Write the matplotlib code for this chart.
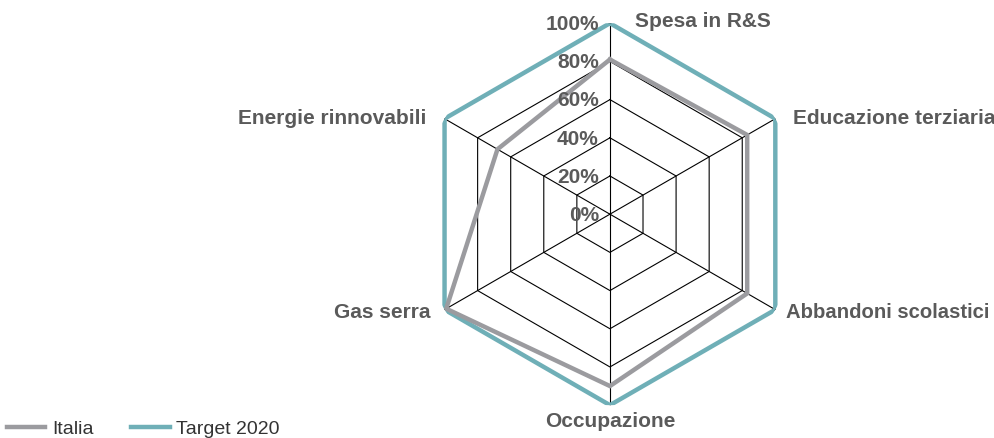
import numpy as np
import matplotlib.pyplot as plt
from matplotlib.lines import Line2D

plt.rcParams['font.family'] = ['Liberation Sans', 'DejaVu Sans']

categories = ["Spesa in R&S", "Educazione terziaria", "Abbandoni scolastici",
              "Occupazione", "Gas serra", "Energie rinnovabili"]
italia = [0.81, 0.83, 0.83, 0.90, 0.99, 0.68]
target = [1.0, 1.0, 1.0, 1.0, 1.0, 1.0]
grid_levels = [0.2, 0.4, 0.6, 0.8, 1.0]
tick_labels = ["0%", "20%", "40%", "60%", "80%", "100%"]

text_col = "#5a5a5a"
grey = "#9b9b9f"
teal = "#6fafb7"

n = len(categories)
angles = np.linspace(0, 2 * np.pi, n, endpoint=False)
closed = np.append(angles, angles[0])

fig = plt.figure(figsize=(9.95, 4.38), dpi=100)
ax = fig.add_axes([0.421, 0.075, 0.384, 0.872], projection="polar")
ax.set_theta_zero_location("N")
ax.set_theta_direction(-1)
ax.set_ylim(0, 1)
ax.grid(False)
ax.spines["polar"].set_visible(False)
ax.set_xticks([])
ax.set_yticks([])
ax.patch.set_alpha(0)

# hexagon grid and spokes
for lv in grid_levels:
    ax.plot(closed, [lv] * (n + 1), color="black", lw=0.8, zorder=1)
for a in angles:
    ax.plot([a, a], [0, 1], color="black", lw=0.8, zorder=1)

ax.plot(closed, target + target[:1], color=teal, lw=3.2, zorder=3,
        solid_joinstyle="miter")
ax.plot(closed, italia + italia[:1], color=grey, lw=3.2, zorder=4,
        solid_joinstyle="miter")

# radial tick labels
for i, lab in enumerate(tick_labels):
    ax.annotate(lab, xy=(0, i * 0.2), xytext=(-8, -1), textcoords="offset points",
                ha="right", va="center", fontsize=15, fontweight="bold",
                color=text_col, zorder=5)

# category labels
offsets = [((18, 1), "left", 15), ((13, 0), "left", 15), ((8, -2), "left", 14.6),
           ((0, -12), "center", 15), ((-10, -2), "right", 15), ((-13, 0), "right", 15)]
for a, cat, (off, ha, fs) in zip(angles, categories, offsets):
    ax.annotate(cat, xy=(a, 1), xytext=off, textcoords="offset points",
                ha=ha, va="center", fontsize=fs, fontweight="bold",
                color=text_col, annotation_clip=False)

handles = [Line2D([], [], color=grey, lw=3.2), Line2D([], [], color=teal, lw=3.2)]
fig.legend(handles, ["Italia", "Target 2020"], loc="lower left",
           bbox_to_anchor=(-0.011, -0.04), ncol=2, frameon=False,
           fontsize=14, handlelength=2.0, handletextpad=0.35, columnspacing=1.9,
           labelcolor="#333333")

fig.savefig("out.png", dpi=100)
